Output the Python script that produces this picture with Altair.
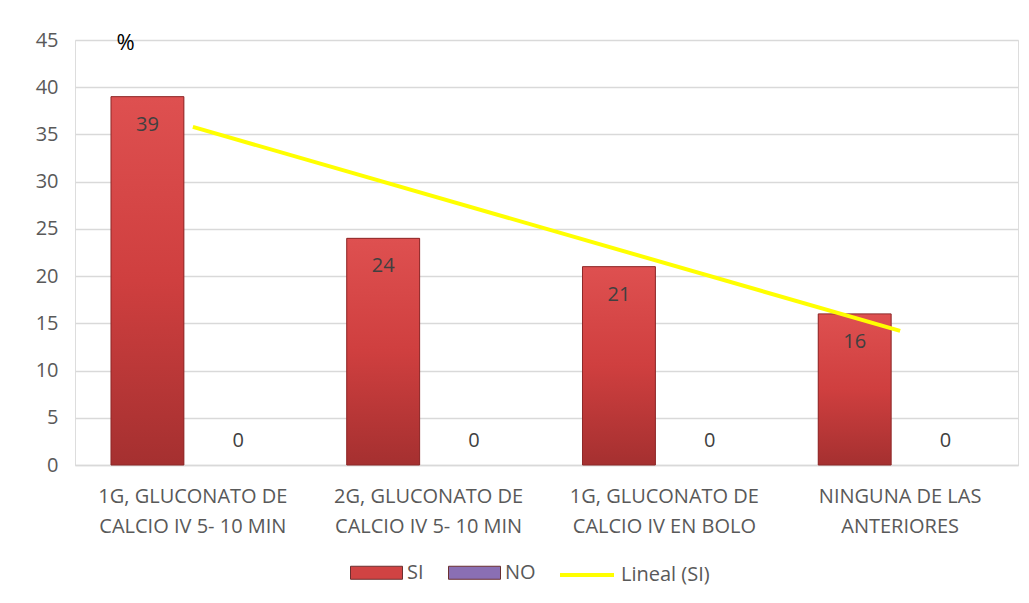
import altair as alt
import pandas as pd

categories = [
    "1G, GLUCONATO DE\nCALCIO IV 5- 10 MIN",
    "2G, GLUCONATO DE\nCALCIO IV 5- 10 MIN",
    "1G, GLUCONATO DE\nCALCIO IV EN BOLO",
    "NINGUNA DE LAS\nANTERIORES",
]
si_values = [39, 24, 21, 16]
no_values = [0, 0, 0, 0]
series = ["SI", "NO"]
series_colors = ["#D04343", "#8A6FB3"]

rows = []
for i, c in enumerate(categories):
    rows.append({"cat": c, "idx": i + 1, "serie": "SI", "val": si_values[i]})
    rows.append({"cat": c, "idx": i + 1, "serie": "NO", "val": no_values[i]})
df = pd.DataFrame(rows)
si_df = pd.DataFrame({"cat": categories, "idx": list(range(1, 5)), "SI": si_values})

FONT = "Open Sans"
GRAY = "#595959"
FS = 20

xenc = alt.X(
    "cat:N",
    sort=categories,
    scale=alt.Scale(paddingInner=0, paddingOuter=0),
    axis=alt.Axis(
        title=None,
        labelAngle=0,
        labelExpr="split(datum.label, '\\n')",
        labelFontSize=FS,
        labelColor=GRAY,
        labelFont=FONT,
        labelLineHeight=30,
        labelPadding=21,
        labelLimit=400,
        labelOverlap=False,
        ticks=False,
        domainColor="#D9D9D9",
        domainWidth=1.5,
        grid=False,
    ),
)
yenc = alt.Y(
    "val:Q",
    scale=alt.Scale(domain=[0, 45]),
    axis=alt.Axis(
        values=list(range(0, 50, 5)),
        title="%",
        titleAngle=0,
        titleX=50,
        titleY=2,
        titleAlign="center",
        titleBaseline="middle",
        titleFontSize=22,
        titleFontWeight="normal",
        titleColor="#000000",
        titleFont=FONT,
        labelFontSize=FS,
        labelColor=GRAY,
        labelFont=FONT,
        labelPadding=17,
        ticks=False,
        domain=False,
        gridColor="#D9D9D9",
        gridWidth=1.5,
    ),
)
xoff = alt.XOffset(
    "serie:N",
    sort=series,
    scale=alt.Scale(domain=series, paddingInner=0.198, paddingOuter=0.396),
)

base = alt.Chart(df).encode(x=xenc, xOffset=xoff)

bars = base.mark_bar(strokeWidth=0).encode(
    y=yenc,
    fill=alt.Fill(
        "serie:N",
        sort=series,
        scale=alt.Scale(domain=series, range=series_colors),
        legend=alt.Legend(
            title=None,
            orient="none",
            direction="horizontal",
            legendX=275,
            legendY=506,
            symbolType="M-1,-0.25L1,-0.25L1,0.25L-1,0.25Z",
            symbolSize=2704,
            symbolStrokeColor="#6b3030",
            symbolStrokeWidth=1,
            labelFontSize=FS,
            labelColor=GRAY,
            labelFont=FONT,
            labelOffset=4,
            columnPadding=22,
        ),
    ),
)

grad = alt.Gradient(
    gradient="linear",
    x1=0, y1=0, x2=0, y2=1,
    stops=[
        alt.GradientStop(offset=0, color="#DE5050"),
        alt.GradientStop(offset=0.5, color="#CF3F3F"),
        alt.GradientStop(offset=1, color="#A53030"),
    ],
)
bars_grad = base.transform_filter("datum.serie == 'SI'").mark_bar(
    fill=grad, stroke="#8C2828", strokeWidth=1
).encode(y=alt.Y("val:Q"))

si_labels = base.transform_filter("datum.serie == 'SI'").mark_text(
    baseline="middle", dy=28, fontSize=FS, color="#404040", font=FONT
).encode(y=alt.Y("val:Q"), text="val:Q")

no_labels = base.transform_filter("datum.serie == 'NO'").mark_text(
    baseline="middle", dy=-24, fontSize=FS, color="#404040", font=FONT
).encode(y=alt.Y("val:Q"), text="val:Q")

trend = (
    alt.Chart(si_df)
    .transform_regression("idx", "SI")
    .transform_calculate(serie2="'Lineal (SI)'")
    .mark_line(strokeWidth=4)
    .encode(
        x=alt.X("idx:Q", scale=alt.Scale(domain=[0.5, 4.5]), axis=None),
        y=alt.Y("SI:Q"),
        stroke=alt.Stroke(
            "serie2:N",
            scale=alt.Scale(domain=["Lineal (SI)"], range=["#FFFF00"]),
            legend=alt.Legend(
                title=None,
                orient="none",
                direction="horizontal",
                legendX=483,
                legendY=506,
                symbolType="stroke",
                symbolSize=2916,
                symbolStrokeWidth=4,
                labelFontSize=FS,
                labelColor=GRAY,
                labelFont=FONT,
                labelOffset=5,
            ),
        ),
    )
)

bar_layers = alt.layer(bars, bars_grad, si_labels, no_labels)

chart = (
    alt.layer(bar_layers, trend)
    .resolve_scale(x="independent")
    .properties(
        width=943,
        height=425,
        autosize=alt.AutoSizeParams(type="none"),
        padding={"left": 75, "top": 40, "right": 11, "bottom": 138},
    )
    .configure_view(stroke=None)
    .configure(background="white")
)

chart.save("out.html", embed_options={"renderer": "svg", "actions": False})
